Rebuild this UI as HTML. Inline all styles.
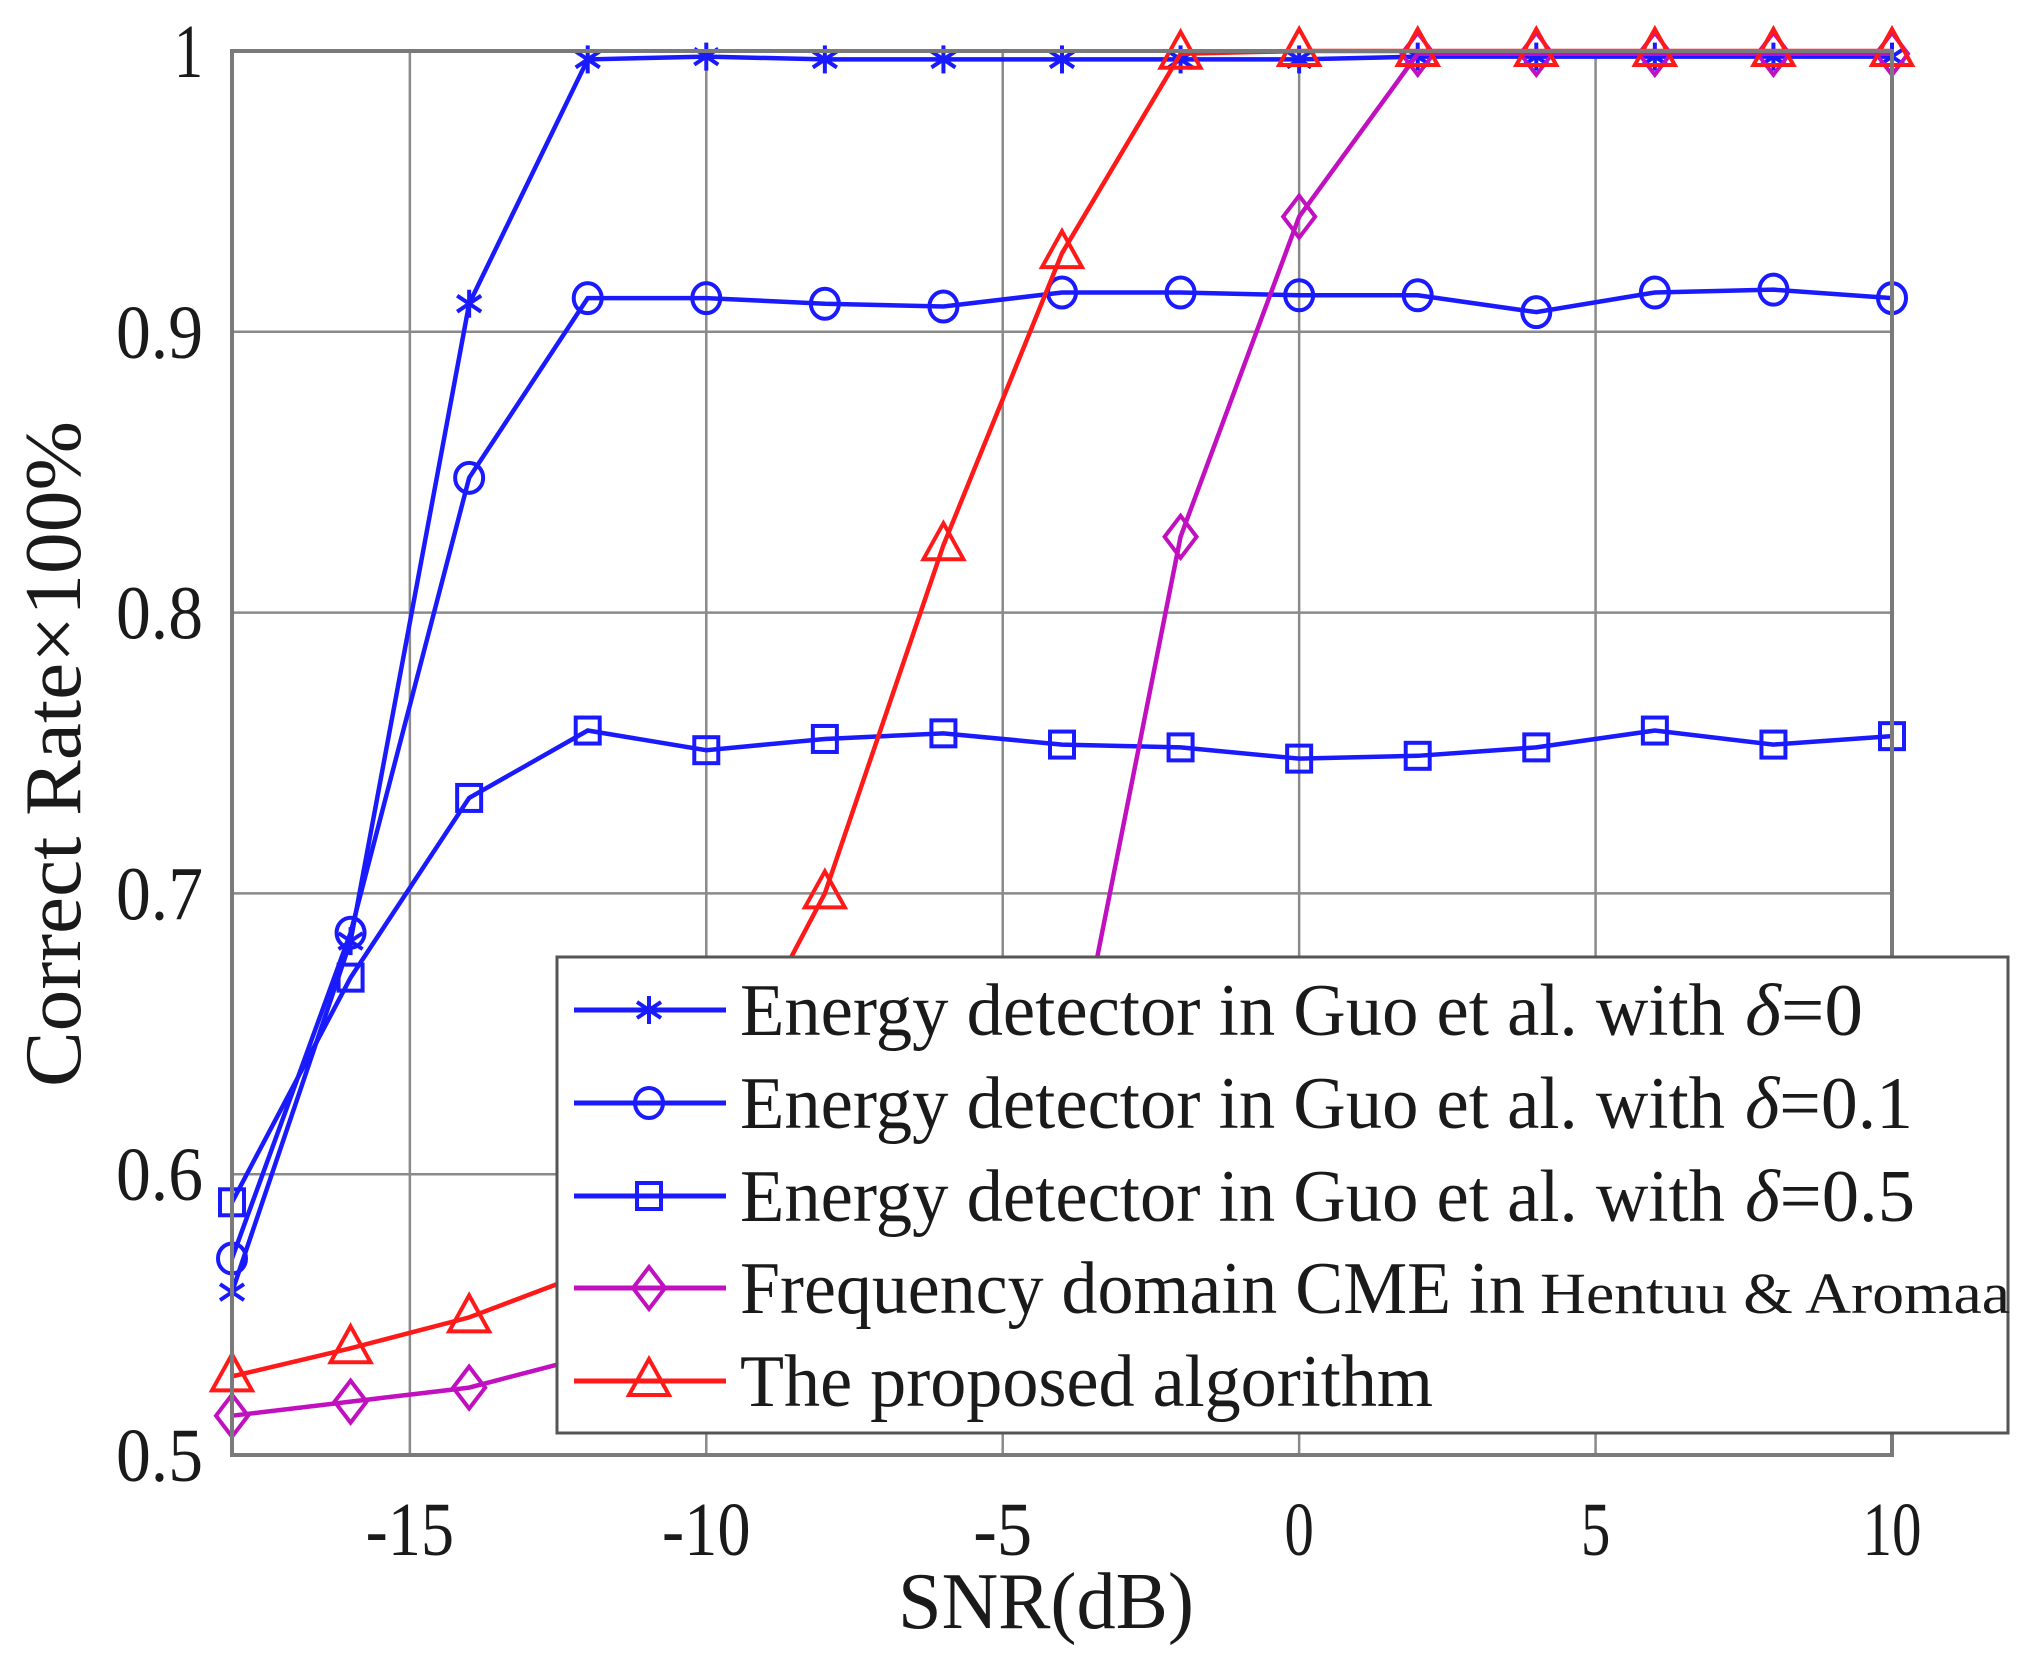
<!DOCTYPE html>
<html><head><meta charset="utf-8"><style>
html,body{margin:0;padding:0;background:#fff;}
svg{display:block;}
text{font-family:"Liberation Serif","DejaVu Serif",serif;fill:#1a1a1a;}
</style></head><body>
<svg id="chart" width="2044" height="1665" viewBox="0 0 2044 1665" xmlns="http://www.w3.org/2000/svg">
<g id="grid"></g>
<g id="series"></g>
<g id="axes"></g>
<g id="legend"></g>
</svg>
<script>
const snr = [-18,-16,-14,-12,-10,-8,-6,-4,-2,0,2,4,6,8,10];
const delta0 = [0.558,0.683,0.910,0.997,0.998,0.997,0.997,0.997,0.997,0.997,0.998,0.998,0.998,0.998,0.998];
const delta01 = [0.570,0.686,0.848,0.912,0.912,0.910,0.909,0.914,0.914,0.913,0.913,0.907,0.914,0.915,0.912];
const delta05 = [0.590,0.670,0.734,0.758,0.751,0.755,0.757,0.753,0.752,0.748,0.749,0.752,0.758,0.753,0.756];
const cme = [0.514,0.519,0.524,0.535,0.548,0.562,0.580,0.614,0.827,0.941,0.999,0.999,0.999,0.999,0.999];
const proposed = [0.528,0.538,0.549,0.565,0.620,0.700,0.824,0.928,0.999,1.000,1.000,1.000,1.000,1.000,1.000];
const xTicks = [-15,-10,-5,0,5,10];
const xTickLabels = ["-15","-10","-5","0","5","10"];
const yTicks = [0.5,0.6,0.7,0.8,0.9,1.0];
const yTickLabels = ["0.5","0.6","0.7","0.8","0.9","1"];
const legendPrefix = ["Energy detector in Guo et al. with","Energy detector in Guo et al. with","Energy detector in Guo et al. with","Frequency domain CME in","The proposed algorithm"];
const legendSuffix = ["=0","=0.1","=0.5","",""];

const L=232,R=1892,T=51,B=1455;
const xMin=-18,xMax=10,yMin=0.5,yMax=1.0;
function xs(v){return L+(v-xMin)/(xMax-xMin)*(R-L);}
function ys(v){return B-(v-yMin)/(yMax-yMin)*(B-T);}
const NS="http://www.w3.org/2000/svg";
function mk(tag,attrs,parent){const e=document.createElementNS(NS,tag);for(const k in attrs)e.setAttribute(k,attrs[k]);parent.appendChild(e);return e;}
const grid=document.getElementById('grid'),axes=document.getElementById('axes'),ser=document.getElementById('series'),leg=document.getElementById('legend');

xTicks.forEach((t,i)=>{
  const l=mk('line',{x1:xs(t),x2:xs(t),y1:T,y2:B,stroke:'#8a8a8a','stroke-width':2.5},grid);
  
  
  const tx=mk('text',{x:xs(t),y:1555,'text-anchor':'middle','font-size':76,textLength:xTickLabels[i].length*29.5,lengthAdjust:'spacingAndGlyphs'},axes);
  tx.textContent=xTickLabels[i];
  
  
});
yTicks.forEach((t,i)=>{
  const l=mk('line',{x1:L,x2:R,y1:ys(t),y2:ys(t),stroke:'#8a8a8a','stroke-width':2.5},grid);
  
  
  const tx=mk('text',{x:203,y:ys(t)+26,'text-anchor':'end','font-size':76,textLength:yTickLabels[i].length*29,lengthAdjust:'spacingAndGlyphs'},axes);
  tx.textContent=yTickLabels[i];
  
  
});
const frame=mk('rect',{x:L,y:T,width:R-L,height:B-T,fill:'none',stroke:'#7a7a7a','stroke-width':4},axes);


const xl=mk('text',{x:1046,y:1628,'text-anchor':'middle','font-size':80,textLength:296,lengthAdjust:'spacingAndGlyphs'},axes);
xl.textContent='SNR(dB)';


const yl=mk('text',{x:0,y:0,'text-anchor':'middle','font-size':80,textLength:666,lengthAdjust:'spacingAndGlyphs',transform:'translate(80,754) rotate(-90)'},axes);
yl.textContent='Correct Rate×100%';



function marker(type,x,y,color,parent){
  const g=mk('g',{fill:'none',stroke:color,'stroke-width':4},parent);
  if(type==='star'){
    mk('line',{x1:x,y1:y-14,x2:x,y2:y+14},g);
    mk('line',{x1:x-12,y1:y-8,x2:x+12,y2:y+8},g);
    mk('line',{x1:x-12,y1:y+8,x2:x+12,y2:y-8},g);
  }else if(type==='circle'){
    mk('ellipse',{cx:x,cy:y,rx:14,ry:15},g);
  }else if(type==='square'){
    mk('rect',{x:x-12,y:y-13,width:24,height:26},g);
  }else if(type==='diamond'){
    mk('polygon',{points:`${x},${y-21} ${x+16},${y} ${x},${y+21} ${x-16},${y}`},g);
  }else if(type==='triangle'){
    mk('polygon',{points:`${x},${y-22} ${x+20},${y+14} ${x-20},${y+14}`},g);
  }
  return g;
}
const seriesDefs=[
  {data:delta05,color:'#1a1aff',m:'square',name:'series-delta-0-5'},
  {data:delta01,color:'#1a1aff',m:'circle',name:'series-delta-0-1'},
  {data:delta0,color:'#1a1aff',m:'star',name:'series-delta-0'},
  {data:cme,color:'#c010c0',m:'diamond',name:'series-cme'},
  {data:proposed,color:'#ff1a1a',m:'triangle',name:'series-proposed'}
];
seriesDefs.forEach(s=>{
  const g=mk('g',{},ser);
  
  
  const pts=snr.map((v,i)=>xs(v)+','+ys(s.data[i])).join(' ');
  const pl=mk('polyline',{points:pts,fill:'none',stroke:s.color,'stroke-width':4.5},g);
  
  
  snr.forEach((v,i)=>{
    const mg=marker(s.m,xs(v),ys(s.data[i]),s.color,g);
    
    
  });
});

const lb=mk('rect',{x:557,y:957,width:1451,height:476,fill:'#fff',stroke:'#555','stroke-width':3},leg);


const legDefs=[
  {color:'#1a1aff',m:'star',w:985,w2:118},
  {color:'#1a1aff',m:'circle',w:985,w2:168},
  {color:'#1a1aff',m:'square',w:985,w2:170},
  {color:'#c010c0',m:'diamond',w:785,w2:0},
  {color:'#ff1a1a',m:'triangle',w:693,w2:0}
];
const rowY=[1010,1103,1196,1288,1381];
legDefs.forEach((d,i)=>{
  const g=mk('g',{},leg);
  
  
  mk('line',{x1:574,x2:726,y1:rowY[i],y2:rowY[i],stroke:d.color,'stroke-width':5},g);
  marker(d.m,649,rowY[i],d.color,g);
  const t=mk('text',{x:740,y:rowY[i]+25,'font-size':74,textLength:d.w,lengthAdjust:'spacingAndGlyphs'},g);
  t.textContent=legendPrefix[i];
  if(d.w2>0){
    const t2=mk('text',{x:740+d.w+20,y:rowY[i]+25,'font-size':74,textLength:d.w2,lengthAdjust:'spacingAndGlyphs'},g);
    const ts=mk('tspan',{'font-style':'italic'},t2);
    ts.textContent='δ';
    const ts2=mk('tspan',{},t2);
    ts2.textContent=legendSuffix[i];
  }
  if(i===3){
    const t3=mk('text',{x:1540,y:rowY[i]+25,'font-size':58,textLength:470,lengthAdjust:'spacingAndGlyphs'},g);
    t3.textContent='Hentuu & Aromaa';
  }
});
</script>
</body></html>
